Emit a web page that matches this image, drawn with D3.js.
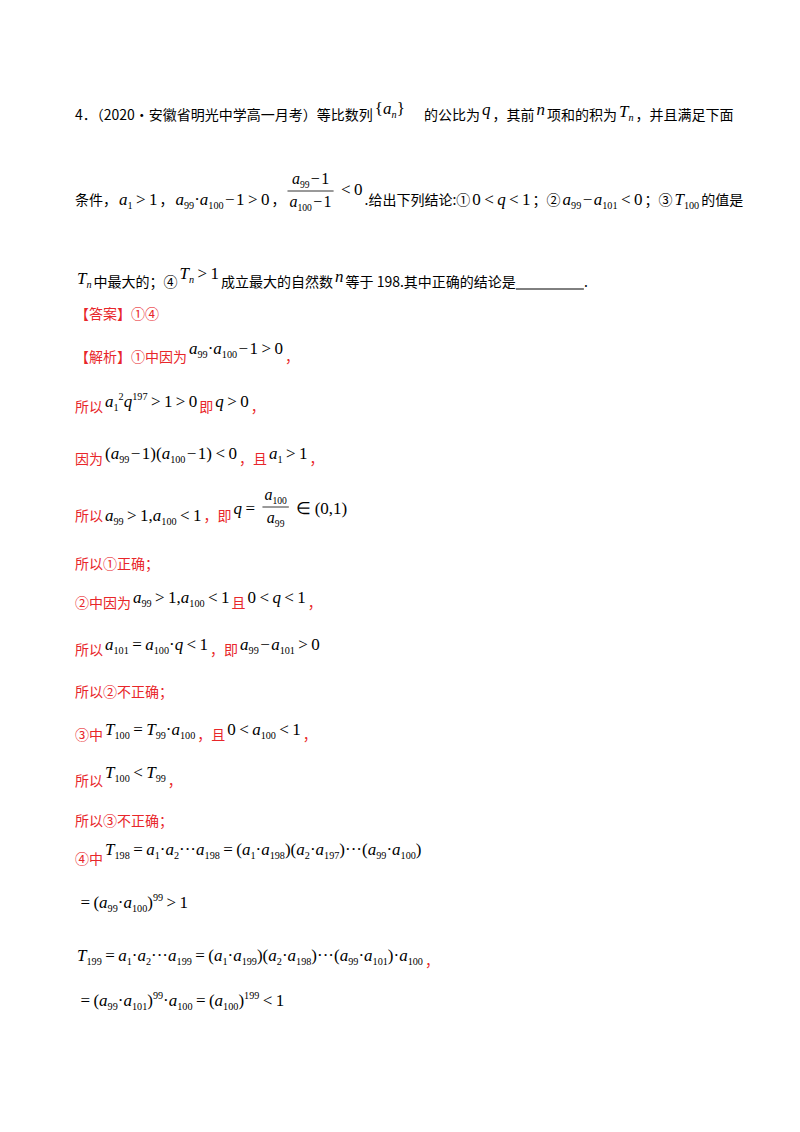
<!DOCTYPE html>
<html><head><meta charset="utf-8">
<script src="https://cdn.jsdelivr.net/npm/d3@7"></script>
<style>body{margin:0;background:#fff}</style></head>
<body><svg id="s" width="800" height="1132"></svg>
<script>
// Segments: c = Chinese text, m = math, f = fraction, r = red Chinese, u = underline blank
const lineTexts = [
 [["c","4．（2020·安徽省明光中学高一月考）等比数列"],["m","{a_n}",-6],["c","　 的公比为"],["m","q",-5],["c","，其前"],["m","n",-5],["c","项和的积为"],["m","T_n",-3],["c","，并且满足下面"]],
 [["c","条件，"],["m","a_1 >1"],["c","，"],["m","a_{99}·a_{100} −1>0"],["c","，"],["f","a_{99} −1","a_{100} −1"],["m","<0",-10],["c",".给出下列结论:①"],["m","0<q<1"],["c","；②"],["m","a_{99} −a_{101} <0"],["c","；③"],["m","T_{100}"],["c","的值是"]],
 [["m","T_n",-3],["c","中最大的；④"],["m","T_n >1",-8],["c","成立最大的自然数"],["m","n",-5],["c","等于 198.其中正确的结论是"],["u","__________"],["c","."]],
 [["r","【答案】①④"]],
 [["r","【解析】①中因为"],["m","a_{99}·a_{100} −1>0",-8],["r","，"]],
 [["r","所以"],["m","a_1^2q^{197} >1>0",-5],["r","即"],["m","q>0",-5],["r","，"]],
 [["r","因为"],["m","(a_{99} −1)(a_{100} −1)<0",-5],["r","，且"],["m","a_1 >1",-5],["r","，"]],
 [["r","所以"],["m","a_{99}>1,a_{100} <1"],["r","，即"],["m","q=",-7],["f","a_{100}","a_{99}"],["m","∈(0,1)",-7]],
 [["r","所以①正确；"]],
 [["r","②中因为"],["m","a_{99}>1,a_{100} <1",-5],["r","且"],["m","0<q<1",-5],["r","，"]],
 [["r","所以"],["m","a_{101} =a_{100}·q<1",-5],["r","，即"],["m","a_{99} −a_{101} >0",-5]],
 [["r","所以②不正确；"]],
 [["r","③中"],["m","T_{100} =T_{99}·a_{100}",-5],["r","，且"],["m","0<a_{100} <1",-5],["r","，"]],
 [["r","所以"],["m","T_{100} <T_{99}",-8],["r","，"]],
 [["r","所以③不正确；"]],
 [["r","④中"],["m","T_{198} =a_1·a_2···a_{198} =(a_1·a_{198})(a_2·a_{197})···(a_{99}·a_{100})",-9]],
 [["m","=(a_{99}·a_{100})^{99} >1"]],
 [["m","T_{199} =a_1·a_2···a_{199} =(a_1·a_{199})(a_2·a_{198})···(a_{99}·a_{101})·a_{100}"],["r","，",5]],
 [["m","=(a_{99}·a_{101})^{99}·a_{100} =(a_{100})^{199} <1"]]
];
const baselines = [120,205,287,319,362,412,464,521,569,608,655,697,740,786,826,864,908,961,1006];

const svg = d3.select("#s");
const yScale = d3.scaleLinear().domain([0,1]).range([0,1]);
const CN = "'SimSun','Noto Sans CJK SC',serif", MF = "'Liberation Serif','Times New Roman',serif";
const RED = "#e8262a";

function parseMath(s){
  const runs=[]; let i=0;
  const push=(t,mode)=>{for(const ch of t){runs.push({ch,mode});}};
  while(i<s.length){
    const c=s[i];
    if(c==="_"||c==="^"){
      const mode=c==="_"?"sub":"sup"; i++;
      let t;
      if(s[i]==="{"){const j=s.indexOf("}",i);t=s.slice(i+1,j);i=j+1;}else{t=s[i];i++;}
      push(t,mode);
    } else if("=<>∈".includes(c)){push("\u2009"+c+"\u2009","n");i++;}
    else if(c==="−"){push("\u200a"+c+"\u200a","n");i++;}
    else if(c===" "){i++;}
    else {push(c,"n");i++;}
  }
  return runs;
}
function mathText(g,x,y,s,size,fill){
  const t=g.append("text").attr("x",x).attr("y",y).attr("font-family",MF).attr("font-size",size).attr("fill",fill);
  const runs=parseMath(s); let prev="n";
  runs.forEach(r=>{
    const ts=t.append("tspan").text(r.ch);
    if(/[a-zA-Z]/.test(r.ch)) ts.attr("font-style","italic");
    if(r.mode!=="n") ts.attr("font-size",size*0.6);
    const off={n:0,sub:4,sup:-7}[r.mode];
    const poff={n:0,sub:4,sup:-7}[prev];
    if(off!==poff) ts.attr("dy",off-poff);
    prev=r.mode;
  });
  return t.node().getComputedTextLength();
}
lineTexts.forEach((segs,li)=>{
  const g=svg.append("g"); let x=75; const y=yScale(baselines[li]);
  segs.forEach(seg=>{
    const [k,a,b]=seg;
    if(k==="c"||k==="r"){
      const t=g.append("text").attr("x",x).attr("y",y+(typeof b==="number"?b:0)).attr("font-family",CN).attr("font-size",14).attr("fill",k==="r"?RED:"#000").text(a);
      x+=t.node().getComputedTextLength();
    } else if(k==="m"){
      x+=mathText(g,x+2,y+(b||0),a,17,"#000")+4;
    } else if(k==="u"){
      const w=68; g.append("line").attr("x1",x).attr("x2",x+w).attr("y1",y+2).attr("y2",y+2).attr("stroke","#000");
      x+=w;
    } else if(k==="f"){
      const tmp=svg.append("g");
      const w1=mathText(tmp,0,0,a,16,"#000"), w2=mathText(tmp,0,0,b,16,"#000"); tmp.remove();
      const w=Math.max(w1,w2)+4;
      const cy=y-14;
      mathText(g,x+2+(w-w1)/2,cy-7,a,16,"#000");
      mathText(g,x+2+(w-w2)/2,cy+16,b,16,"#000");
      g.append("line").attr("x1",x+2).attr("x2",x+2+w).attr("y1",cy).attr("y2",cy).attr("stroke","#000").attr("stroke-width",0.8);
      x+=w+4;
    }
  });
});
</script></body></html>
